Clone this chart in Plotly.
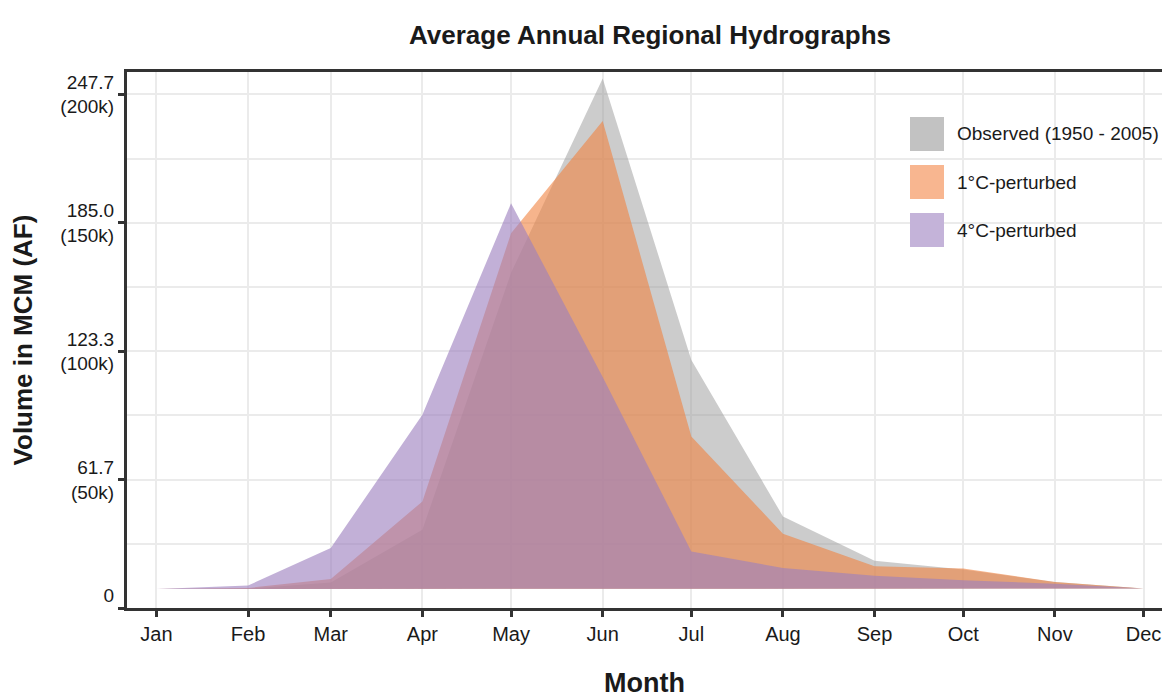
import plotly.graph_objects as go

# ---------------- data ----------------
month_dates = ["2001-01-01", "2001-02-01", "2001-03-01", "2001-04-01", "2001-05-01", "2001-06-01",
               "2001-07-01", "2001-08-01", "2001-09-01", "2001-10-01", "2001-11-01", "2001-12-01"]
month_labels = ["Jan", "Feb", "Mar", "Apr", "May", "Jun", "Jul", "Aug", "Sep", "Oct", "Nov", "Dec"]

observed = [9.1, 9.3, 12.3, 37.6, 161.0, 254.4, 119.2, 44.0, 22.7, 18.5, 12.5, 9.4]
perturbed_1c = [9.1, 9.6, 13.9, 51.2, 180.0, 233.9, 82.4, 35.7, 20.0, 19.0, 12.5, 9.4]
perturbed_4c = [9.1, 10.8, 28.8, 92.8, 194.4, 111.0, 27.2, 19.2, 15.5, 13.3, 11.7, 9.4]

series_names = ["Observed (1950 - 2005)", "1°C-perturbed", "4°C-perturbed"]
series_fill = ["rgba(153,153,153,0.5)", "rgba(240,130,63,0.6)", "rgba(157,128,190,0.62)"]
legend_swatch = ["#c2c2c2", "#f8b690", "#c4b3d9"]

y_tickvals = [0, 61.67, 123.35, 185.02, 246.7]
y_ticktext = ["0<br>&nbsp;", "61.7<br>(50k)", "123.3<br>(100k)", "185.0<br>(150k)", "247.7<br>(200k)"]

FONT = "Liberation Sans, Arial, sans-serif"
W, H = 1162, 698
ML, MR, MT = 127, 0, 72
MB = H - 608

fig = go.Figure()
for name, vals, col in zip(series_names, [observed, perturbed_1c, perturbed_4c], series_fill):
    fig.add_trace(go.Scatter(
        x=month_dates, y=vals, name=name, mode="lines",
        line=dict(width=0), fill="toself", fillcolor=col,
        showlegend=False, hoveron="points+fills",
    ))

# manual legend (large square swatches)
pw, ph = W - ML - MR, H - MT - MB
def px_x(px):
    return (px - ML) / pw
def px_y(py):
    return (H - MB - py) / ph

for i, (name, sw) in enumerate(zip(series_names, legend_swatch)):
    top = 117 + i * 48
    fig.add_shape(type="rect", xref="paper", yref="paper",
                  x0=px_x(910), x1=px_x(944), y0=px_y(top + 34), y1=px_y(top),
                  fillcolor=sw, line=dict(width=0), layer="above")
    fig.add_annotation(xref="paper", yref="paper", x=px_x(955), y=px_y(top + 17),
                       text=name, showarrow=False, xanchor="left", yanchor="middle",
                       font=dict(family=FONT, size=19, color="#1a1a1a"))

fig.update_layout(
    width=W, height=H,
    margin=dict(l=ML, r=MR, t=MT, b=MB, autoexpand=False),
    paper_bgcolor="white", plot_bgcolor="white",
    title=dict(text="<b>Average Annual Regional Hydrographs</b>", x=650 / W,
               xanchor="center", y=1 - 35 / H, yanchor="middle",
               font=dict(family=FONT, size=26, color="#1a1a1a")),
    font=dict(family=FONT, color="#1a1a1a"),
    showlegend=False,
)

fig.update_xaxes(
    type="date", automargin=False,
    range=["2000-12-22 01:12", "2001-12-07 06:15"],
    tickvals=month_dates, ticktext=month_labels,
    tickfont=dict(family=FONT, size=20, color="#1a1a1a"),
    showgrid=True, gridcolor="#ebebeb", gridwidth=2,
    showline=True, linecolor="#333333", linewidth=3, mirror=True,
    ticks="outside", ticklen=6, tickwidth=2.5, tickcolor="#333333",
    zeroline=False,
    title=dict(text="<b>Month</b>", font=dict(family=FONT, size=27, color="#1a1a1a"), standoff=37),
)

fig.update_yaxes(
    automargin=False,
    range=[0, 257.5],
    tickvals=y_tickvals, ticktext=y_ticktext,
    tickfont=dict(family=FONT, size=19, color="#1a1a1a"),
    showgrid=True, gridcolor="#ebebeb", gridwidth=2,
    minor=dict(tick0=0, dtick=30.8375, showgrid=True, gridcolor="#ebebeb", gridwidth=2, ticks=""),
    showline=True, linecolor="#333333", linewidth=3, mirror=False,
    ticks="outside", ticklen=6, tickwidth=2.5, tickcolor="#333333",
    zeroline=False,
    title=dict(text="<b>Volume in MCM (AF)</b>", font=dict(family=FONT, size=26, color="#1a1a1a"), standoff=21),
)

fig.write_html(
    "out.html",
    config={"displayModeBar": False},
    post_script="document.body.style.margin='0';document.body.style.overflow='hidden';",
)
